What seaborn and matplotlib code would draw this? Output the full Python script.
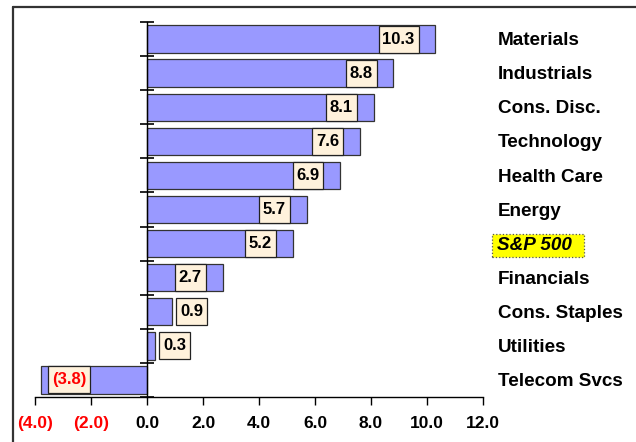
import matplotlib
matplotlib.use("Agg")
import matplotlib.pyplot as plt
import matplotlib.transforms as mtransforms
from matplotlib.lines import Line2D
from matplotlib.path import Path
import seaborn as sns
import pandas as pd

categories = ["Materials", "Industrials", "Cons. Disc.", "Technology", "Health Care",
              "Energy", "S&P 500", "Financials", "Cons. Staples", "Utilities", "Telecom Svcs"]
values = [10.3, 8.8, 8.1, 7.6, 6.9, 5.7, 5.2, 2.7, 0.9, 0.3, -3.8]
xticks = [-4, -2, 0, 2, 4, 6, 8, 10, 12]

sns.set_theme(style="white")
plt.rcParams["font.family"] = ["Liberation Sans", "DejaVu Sans"]
plt.rcParams["font.weight"] = "bold"

df = pd.DataFrame({"cat": categories, "val": values})

fig = plt.figure(figsize=(6.36, 4.42), dpi=100)
W, H = 636, 442
ax = fig.add_axes([35 / W, 45 / H, 448 / W, 375 / H])

sns.barplot(data=df, x="val", y="cat", orient="h", order=categories, color="#9999FF",
            saturation=1, edgecolor="#333333", linewidth=0.9, width=0.8, ax=ax)

ax.set_xlim(-4, 12)
ax.set_ylim(len(categories) - 0.5, -0.5)

for s in ["top", "right"]:
    ax.spines[s].set_visible(False)
ax.spines["left"].set_position(("data", 0))
ax.spines["left"].set_color("black")
ax.spines["left"].set_linewidth(1.0)
ax.spines["bottom"].set_color("black")
ax.spines["bottom"].set_linewidth(1.0)

ax.set_yticks([i - 0.5 for i in range(len(categories) + 1)])
ax.set_yticklabels([])
ax.tick_params(axis="y", direction="inout", length=10, width=1.2, color="black", left=True)

ax.set_xticks(xticks)
labels = [f"({abs(t):.1f})" if t < 0 else f"{t:.1f}" for t in xticks]
ax.set_xticklabels(labels, fontsize=12.5, fontweight="bold")
for lab, t in zip(ax.get_xticklabels(), xticks):
    lab.set_color("#FF0000" if t < 0 else "black")
ax.tick_params(axis="x", direction="out", length=6, width=1.0, color="black", pad=7.5, bottom=True)
ax.set_xlabel("")
ax.set_ylabel("")
ax.grid(False)


def make_box(padl, padr, height):
    """Rectangle box: horizontal pads and total height in units of font size."""
    def box(x0, y0, width, h, mutation_size):
        cy = y0 + h / 2
        hh = height * mutation_size / 2
        xa = x0 - padl * mutation_size
        xb = x0 + width + padr * mutation_size
        verts = [(xa, cy - hh), (xb, cy - hh), (xb, cy + hh), (xa, cy + hh), (xa, cy - hh)]
        return Path(verts, closed=True)
    return box


val_box_style = make_box(0.23, 0.23, 1.62)
for i, v in enumerate(values):
    txt = f"({abs(v):.1f})" if v < 0 else f"{v:.1f}"
    col = "#FF0000" if v < 0 else "black"
    if v >= 2:
        off, ha = -14.9, "right"
    elif v >= 0:
        off, ha = 5.6, "left"
    else:
        off, ha = 8.4, "left"
    t = ax.annotate(txt, xy=(v, i), xytext=(off, 0), textcoords="offset points",
                    ha=ha, va="center", fontsize=12, fontweight="bold", color=col,
                    bbox=dict(boxstyle="square", facecolor="#FFF2DC", edgecolor="#222222",
                              linewidth=0.9))
    t.get_bbox_patch().set_boxstyle(val_box_style)

trans = mtransforms.blended_transform_factory(ax.transAxes, ax.transData)
xlab = (498 - 35) / 448
for i, c in enumerate(categories):
    if c == "S&P 500":
        t = ax.annotate(c, xy=(xlab - 1 / 448, i), xycoords=trans, xytext=(0, -1.2),
                        textcoords="offset points", ha="left", va="center", fontsize=13.6,
                        fontweight="bold", style="italic", color="black",
                        bbox=dict(boxstyle="square", facecolor="#FFFF00",
                                  edgecolor="#555555", linestyle=":", linewidth=0.9))
        t.get_bbox_patch().set_boxstyle(make_box(0.27, 0.65, 1.2))
    else:
        ax.annotate(c, xy=(xlab, i), xycoords=trans, xytext=(0, -1.2),
                    textcoords="offset points", ha="left", va="center", fontsize=13.6,
                    fontweight="bold", color="black")

fig.add_artist(Line2D([13 / W, 1], [1 - 7 / H, 1 - 7 / H], transform=fig.transFigure,
                      color="#333333", linewidth=1.6))
fig.add_artist(Line2D([13 / W, 13 / W], [0, 1 - 7 / H], transform=fig.transFigure,
                      color="#333333", linewidth=1.6))

fig.savefig("out.png", dpi=100)
